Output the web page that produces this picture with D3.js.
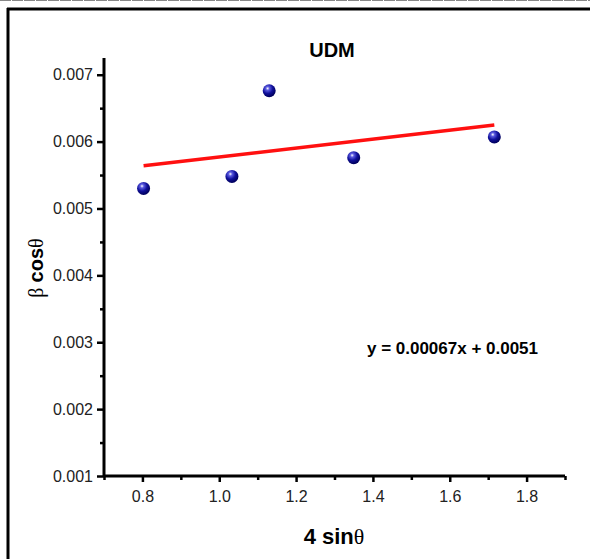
<!DOCTYPE html>
<html><head><meta charset="utf-8">
<script src="https://cdn.jsdelivr.net/npm/d3@7"></script>
<style>body{margin:0;background:#fff}svg{display:block}</style>
</head><body>
<script>
const xValues = [0.803, 1.033, 1.130, 1.350, 1.716];
const yValues = [0.00530, 0.00548, 0.00676, 0.00576, 0.00607];
const xTicks = [0.8, 1.0, 1.2, 1.4, 1.6, 1.8];
const yTicks = [0.001, 0.002, 0.003, 0.004, 0.005, 0.006, 0.007];
const fitSlope = 0.00067, fitIntercept = 0.0051;
const title = "UDM";
const equation = "y = 0.00067x + 0.0051";

const W = 590, H = 559;
const svg = d3.select("body").append("svg").attr("width", W).attr("height", H);
svg.append("rect").attr("width", W).attr("height", H).attr("fill", "#fff");

// frame
svg.append("line").attr("x1", 0).attr("x2", W).attr("y1", 0.5).attr("y2", 0.5)
  .attr("stroke", "#888").attr("stroke-width", 1).attr("stroke-dasharray", "11,1");
svg.append("line").attr("x1", 7).attr("x2", W).attr("y1", 9).attr("y2", 9)
  .attr("stroke", "#000").attr("stroke-width", 3);
svg.append("line").attr("x1", 8).attr("x2", 8).attr("y1", 8).attr("y2", H)
  .attr("stroke", "#000").attr("stroke-width", 3);

const x = d3.scaleLinear().domain([0.7, 1.9]).range([104, 565]);
const y = d3.scaleLinear().domain([0.001, 0.00725]).range([476, 58]);

const defs = svg.append("defs");
const g = defs.append("radialGradient").attr("id", "ball").attr("cx", "38%").attr("cy", "32%").attr("r", "65%");
g.append("stop").attr("offset", "0%").attr("stop-color", "#ffffff");
g.append("stop").attr("offset", "22%").attr("stop-color", "#5a5ae0");
g.append("stop").attr("offset", "60%").attr("stop-color", "#10109a");
g.append("stop").attr("offset", "100%").attr("stop-color", "#000060");

const fontS = "Liberation Sans, Arial, sans-serif";
const fontSerif = "Liberation Serif, Times New Roman, serif";

// minor ticks
const xMinor = d3.range(0.7, 1.95, 0.1).map(v => +v.toFixed(2)).filter(v => !xTicks.some(t => Math.abs(t - v) < 1e-6));
const yMinor = d3.range(0.0015, 0.0072, 0.001).map(v => +v.toFixed(5));

const xa = svg.append("g").attr("transform", "translate(0,476)")
  .call(d3.axisBottom(x).tickValues(xTicks).tickSize(6).tickPadding(9).tickFormat(d3.format(".1f")));
const xm = svg.append("g").attr("transform", "translate(0,476)")
  .call(d3.axisBottom(x).tickValues(xMinor).tickSize(4).tickFormat(""));
const ya = svg.append("g").attr("transform", "translate(104,0)")
  .call(d3.axisLeft(y).tickValues(yTicks).tickSize(7).tickPadding(4).tickFormat(d3.format(".3f")));
const ym = svg.append("g").attr("transform", "translate(104,0)")
  .call(d3.axisLeft(y).tickValues(yMinor).tickSize(4).tickFormat(""));

[xa, xm, ya, ym].forEach(a => {
  a.select(".domain").attr("stroke", "#000").attr("stroke-width", 3);
  a.selectAll(".tick line").attr("stroke", "#000").attr("stroke-width", 2.5);
  a.selectAll("text").attr("font-family", fontS).attr("font-size", 16).attr("fill", "#222");
});
xm.select(".domain").remove(); ym.select(".domain").remove();
xa.select(".domain").attr("d", "M104,0H565");
ya.select(".domain").attr("d", "M0,477V58");

// fit line
const x0 = d3.min(xValues), x1 = d3.max(xValues);
svg.append("line")
  .attr("x1", x(x0)).attr("y1", y(fitSlope * x0 + fitIntercept))
  .attr("x2", x(x1)).attr("y2", y(fitSlope * x1 + fitIntercept))
  .attr("stroke", "#ff1010").attr("stroke-width", 3.5);

// points
svg.selectAll("circle.pt").data(xValues.map((v, i) => [v, yValues[i]])).enter()
  .append("circle").attr("class", "pt")
  .attr("cx", d => x(d[0])).attr("cy", d => y(d[1])).attr("r", 6.5)
  .attr("fill", "url(#ball)");

// title
svg.append("text").attr("x", 332).attr("y", 57).attr("text-anchor", "middle")
  .attr("font-family", fontS).attr("font-weight", "bold").attr("font-size", 20).text(title);

// equation
svg.append("text").attr("x", 367).attr("y", 354)
  .attr("font-family", fontS).attr("font-weight", "bold").attr("font-size", 17)
  .attr("textLength", 171).text(equation);

// x label
const xl = svg.append("text").attr("x", 334).attr("y", 544).attr("text-anchor", "middle")
  .attr("font-size", 22);
xl.append("tspan").attr("font-family", fontS).attr("font-weight", "bold").text("4 sin");
xl.append("tspan").attr("font-family", fontSerif).text("θ");

// y label
const yl = svg.append("text").attr("transform", "translate(43,268) rotate(-90)").attr("text-anchor", "middle")
  .attr("font-size", 20);
yl.append("tspan").attr("font-family", fontSerif).text("β ");
yl.append("tspan").attr("font-family", fontS).attr("font-weight", "bold").text("cos");
yl.append("tspan").attr("font-family", fontSerif).text("θ");
</script>
</body></html>
